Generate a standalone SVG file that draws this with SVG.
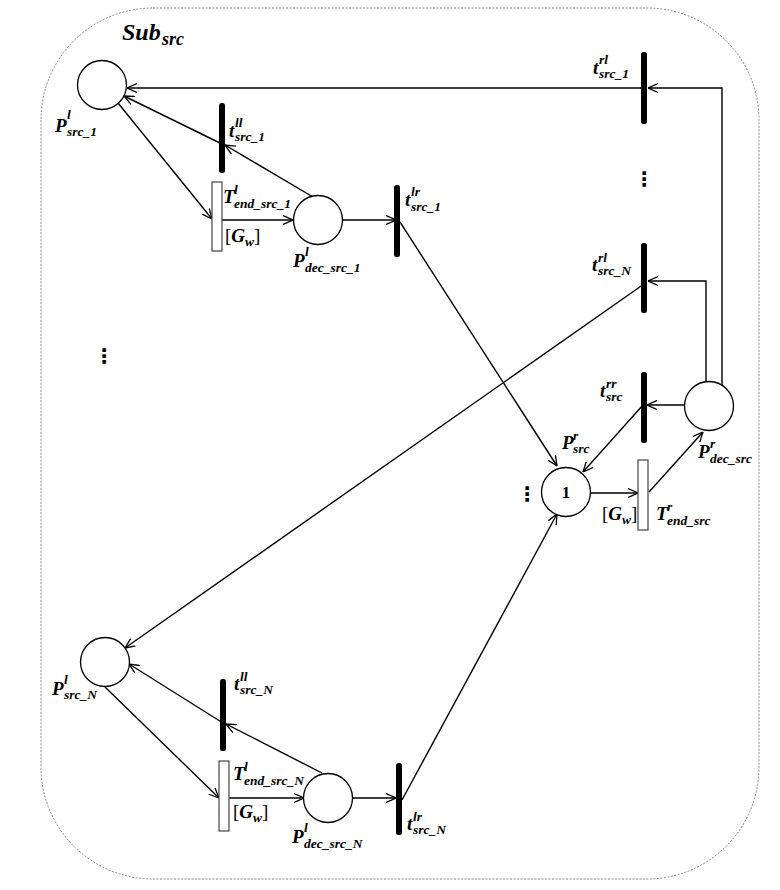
<svg xmlns="http://www.w3.org/2000/svg" width="780" height="890" viewBox="0 0 780 890">
<style>
.bg{fill:#fff}
.frame{fill:none;stroke:#8a8a8a;stroke-width:1;stroke-dasharray:2 1.5}
.place{fill:#fff;stroke:#000;stroke-width:1.3}
.bar{fill:#000}
.box{fill:#fff;stroke:#444;stroke-width:1.2}
.arc{fill:none;stroke:#000;stroke-width:1.4;marker-end:url(#arr)}
text{font-family:"Liberation Serif","Times New Roman",serif;font-weight:bold;font-style:italic;fill:#000}
.m{font-size:19px}
.s{font-size:13.5px}
.br{font-style:normal;font-weight:normal;font-size:19px}
.num{font-style:normal;font-size:17px}
.dots{font-family:"DejaVu Sans",sans-serif;font-style:normal;font-size:20px}
</style>
<defs>
<marker id="arr" viewBox="0 0 10 10" refX="10" refY="5" markerWidth="10" markerHeight="10" markerUnits="userSpaceOnUse" orient="auto">
<path d="M0,0.5 L10,5 L0,9.5" fill="none" stroke="#000" stroke-width="1.3"/>
</marker>
</defs>
<rect class="bg" x="0" y="0" width="780" height="890"/>
<rect class="frame" x="41" y="8" width="718" height="871" rx="112" ry="112"/>
<text x="122" y="40" style="font-size:24px">Sub<tspan x="162" y="45" style="font-size:18px">src</tspan></text>

<g id="connectors">
<path class="arc" d="M722,385 V88 H648"/>
<line class="arc" x1="644" y1="88" x2="127" y2="88"/>
<path class="arc" d="M706,382 V281 H648"/>
<line class="arc" x1="644" y1="284" x2="125" y2="648"/>
<line class="arc" x1="222" y1="144" x2="124" y2="96"/>
<line class="arc" x1="313" y1="197" x2="225" y2="145"/>
<line class="arc" x1="118" y1="103" x2="212" y2="219"/>
<line class="arc" x1="222" y1="220" x2="293" y2="220"/>
<line class="arc" x1="343" y1="220" x2="396" y2="220"/>
<line class="arc" x1="400" y1="222" x2="557" y2="466"/>
<line class="arc" x1="684" y1="405" x2="647" y2="405"/>
<line class="arc" x1="643" y1="405" x2="583" y2="472"/>
<line class="arc" x1="591" y1="493" x2="638" y2="493"/>
<line class="arc" x1="649" y1="492" x2="703" y2="432"/>
<line class="arc" x1="402" y1="800" x2="557" y2="514"/>
<line class="arc" x1="322" y1="773" x2="226" y2="724"/>
<line class="arc" x1="223" y1="723" x2="129" y2="664"/>
<line class="arc" x1="105" y1="687" x2="219" y2="798"/>
<line class="arc" x1="229" y1="798" x2="304" y2="798"/>
<line class="arc" x1="353" y1="798" x2="396" y2="798"/>
</g>

<g id="P_src_1">
<circle class="place" cx="102" cy="85" r="24.5"/>
<text class="m" x="55" y="132">P<tspan class="s" x="67" y="119">l</tspan><tspan class="s" x="67" y="136">src_1</tspan></text>
</g>
<g id="t_ll_src_1">
<rect class="bar" x="219" y="103" width="6" height="70" rx="2.5"/>
<text class="m" x="229" y="137">t<tspan class="s" x="235" y="127">ll</tspan><tspan class="s" x="235" y="141">src_1</tspan></text>
</g>
<g id="T_end_src_1">
<rect class="box" x="212" y="182" width="10" height="69"/>
<text class="m" x="223" y="203">T<tspan class="s" x="234" y="194">l</tspan><tspan class="s" x="234" y="208">end_src_1</tspan></text>
<text class="m" x="225" y="242"><tspan class="br">[</tspan>G<tspan class="s" y="246">w</tspan><tspan class="br" y="242">]</tspan></text>
</g>
<g id="P_dec_src_1">
<circle class="place" cx="318" cy="220" r="24.5"/>
<text class="m" x="293" y="267">P<tspan class="s" x="305" y="256">l</tspan><tspan class="s" x="305" y="272">dec_src_1</tspan></text>
</g>
<g id="t_lr_src_1">
<rect class="bar" x="394" y="185" width="6" height="72" rx="2.5"/>
<text class="m" x="405" y="206">t<tspan class="s" x="411" y="196">lr</tspan><tspan class="s" x="411" y="211">src_1</tspan></text>
</g>
<g id="t_rl_src_1">
<rect class="bar" x="641" y="52" width="6" height="72" rx="2.5"/>
<text class="m" x="593" y="74">t<tspan class="s" x="599" y="64">rl</tspan><tspan class="s" x="599" y="78">src_1</tspan></text>
</g>
<g id="dots_right">
<text class="dots" x="644" y="186" text-anchor="middle">⋮</text>
</g>
<g id="t_rl_src_N">
<rect class="bar" x="641" y="243" width="6" height="70" rx="2.5"/>
<text class="m" x="592" y="271">t<tspan class="s" x="598" y="262">rl</tspan><tspan class="s" x="598" y="275">src_N</tspan></text>
</g>
<g id="dots_left">
<text class="dots" x="104" y="363" text-anchor="middle">⋮</text>
</g>
<g id="t_rr_src">
<rect class="bar" x="641" y="372" width="6" height="71" rx="2.5"/>
<text class="m" x="600" y="397">t<tspan class="s" x="606" y="388">rr</tspan><tspan class="s" x="606" y="401">src</tspan></text>
</g>
<g id="P_dec_src_r">
<circle class="place" cx="709" cy="406" r="24.5"/>
<text class="m" x="698" y="458">P<tspan class="s" x="710" y="448">r</tspan><tspan class="s" x="710" y="463">dec_src</tspan></text>
</g>
<g id="P_src_r">
<circle class="place" cx="566" cy="492" r="24.5"/>
<text class="num" x="566" y="498" text-anchor="middle">1</text>
<text class="m" x="562" y="449">P<tspan class="s" x="573" y="440">r</tspan><tspan class="s" x="573" y="453">src</tspan></text>
</g>
<g id="dots_mid">
<text class="dots" x="527" y="501" text-anchor="middle">⋮</text>
</g>
<g id="T_end_src_r">
<rect class="box" x="638" y="460" width="10" height="70"/>
<text class="m" x="602" y="520"><tspan class="br">[</tspan>G<tspan class="s" y="524">w</tspan><tspan class="br" y="520">]</tspan></text>
<text class="m" x="656" y="520">T<tspan class="s" x="667" y="511">r</tspan><tspan class="s" x="667" y="525">end_src</tspan></text>
</g>
<g id="P_src_N">
<circle class="place" cx="105" cy="662" r="24.5"/>
<text class="m" x="52" y="695">P<tspan class="s" x="64" y="684">l</tspan><tspan class="s" x="64" y="699">src_N</tspan></text>
</g>
<g id="t_ll_src_N">
<rect class="bar" x="220" y="679" width="6" height="72" rx="2.5"/>
<text class="m" x="234" y="690">t<tspan class="s" x="240" y="681">ll</tspan><tspan class="s" x="240" y="694">src_N</tspan></text>
</g>
<g id="T_end_src_N">
<rect class="box" x="219" y="761" width="10" height="70"/>
<text class="m" x="233" y="780">T<tspan class="s" x="244" y="771">l</tspan><tspan class="s" x="244" y="785">end_src_N</tspan></text>
<text class="m" x="233" y="818"><tspan class="br">[</tspan>G<tspan class="s" y="822">w</tspan><tspan class="br" y="818">]</tspan></text>
</g>
<g id="P_dec_src_N">
<circle class="place" cx="328" cy="798" r="24.5"/>
<text class="m" x="292" y="843">P<tspan class="s" x="304" y="832">l</tspan><tspan class="s" x="304" y="848">dec_src_N</tspan></text>
</g>
<g id="t_lr_src_N">
<rect class="bar" x="396" y="763" width="6" height="72" rx="2.5"/>
<text class="m" x="407" y="830">t<tspan class="s" x="413" y="821">lr</tspan><tspan class="s" x="413" y="834">src_N</tspan></text>
</g>
</svg>
